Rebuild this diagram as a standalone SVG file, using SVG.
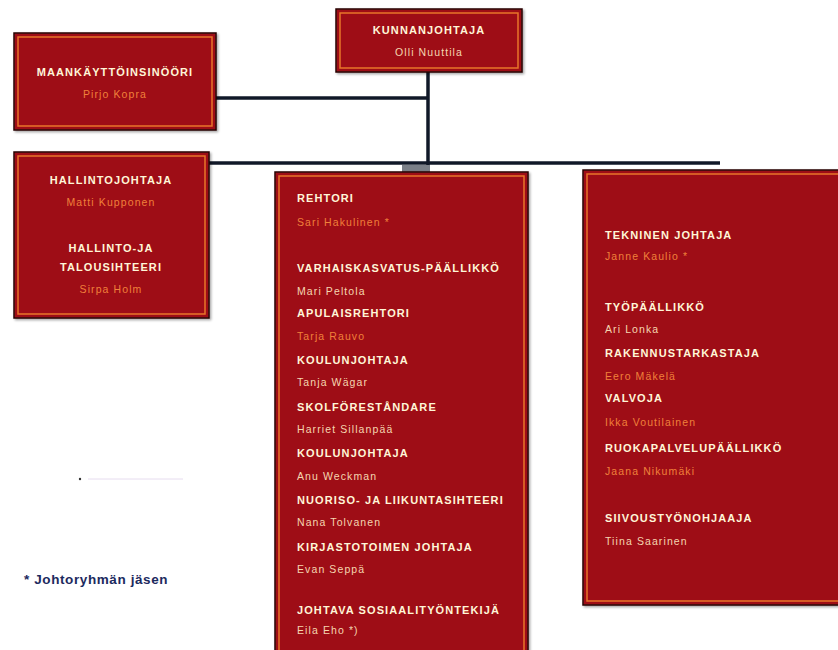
<svg xmlns="http://www.w3.org/2000/svg" width="838" height="650" viewBox="0 0 838 650">
<defs>
<filter id="sh" x="-5%" y="-5%" width="115%" height="115%"><feDropShadow dx="1.5" dy="1.5" stdDeviation="1" flood-color="#000" flood-opacity="0.35"/></filter>
</defs>
<style>
.box{fill:#9e1014;stroke:#2a0606;stroke-width:1.5;filter:url(#sh)}
.inner{fill:none;stroke:#e8762a;stroke-width:1.5}
.t{font-family:"Liberation Sans",Arial,sans-serif;font-weight:bold;font-size:11px;fill:#fff6d8;letter-spacing:1.1px}
.n{font-family:"Liberation Sans",Arial,sans-serif;font-size:10.5px;fill:#f5d6b0;letter-spacing:1.1px}
.o{fill:#f0803a}
.c{text-anchor:middle}
.line{stroke:#101828;stroke-width:3.5;fill:none}
</style>
<rect width="838" height="650" fill="#ffffff"/>
<g id="connectors">
<line class="line" x1="428" y1="72" x2="428" y2="165"/>
<line class="line" x1="216" y1="98" x2="428" y2="98"/>
<line class="line" x1="209" y1="163" x2="720" y2="163" stroke-width="3"/>
<rect x="402" y="165" width="28" height="7" fill="#7a7f88"/>
</g>
<g id="kunnanjohtaja">
<rect class="box" x="336" y="9" width="186" height="63"/>
<rect class="inner" x="340" y="13" width="178" height="55"/>
<text class="t c" x="429" y="34">KUNNANJOHTAJA</text>
<text class="n c" x="429" y="56">Olli Nuuttila</text>
</g>
<g id="maankayttoinsinoori">
<rect class="box" x="14" y="33" width="202" height="97"/>
<rect class="inner" x="18" y="37" width="194" height="89"/>
<text class="t c" x="115" y="76">MAANKÄYTTÖINSINÖÖRI</text>
<text class="n o c" x="115" y="98">Pirjo Kopra</text>
</g>
<g id="hallintojohtaja">
<rect class="box" x="14" y="152" width="195" height="166"/>
<rect class="inner" x="18" y="156" width="187" height="158"/>
<text class="t c" x="111" y="184">HALLINTOJOHTAJA</text>
<text class="n o c" x="111" y="206">Matti Kupponen</text>
<text class="t c" x="111" y="252">HALLINTO-JA</text>
<text class="t c" x="111" y="271">TALOUSIHTEERI</text>
<text class="n o c" x="111" y="293">Sirpa Holm</text>
</g>
<g id="rehtori">
<rect class="box" x="275" y="172" width="253" height="480"/>
<rect class="inner" x="279" y="176" width="245" height="480"/>
<text class="t" x="297" y="202">REHTORI</text>
<text class="n o" x="297" y="226">Sari Hakulinen *</text>
<text class="t" x="297" y="272">VARHAISKASVATUS-PÄÄLLIKKÖ</text>
<text class="n" x="297" y="295">Mari Peltola</text>
<text class="t" x="297" y="317">APULAISREHTORI</text>
<text class="n o" x="297" y="340">Tarja Rauvo</text>
<text class="t" x="297" y="364">KOULUNJOHTAJA</text>
<text class="n" x="297" y="386">Tanja Wägar</text>
<text class="t" x="297" y="411">SKOLFÖRESTÅNDARE</text>
<text class="n" x="297" y="433">Harriet Sillanpää</text>
<text class="t" x="297" y="457">KOULUNJOHTAJA</text>
<text class="n" x="297" y="480">Anu Weckman</text>
<text class="t" x="297" y="504">NUORISO- JA LIIKUNTASIHTEERI</text>
<text class="n" x="297" y="526">Nana Tolvanen</text>
<text class="t" x="297" y="551">KIRJASTOTOIMEN JOHTAJA</text>
<text class="n" x="297" y="573">Evan Seppä</text>
<text class="t" x="297" y="614">JOHTAVA SOSIAALITYÖNTEKIJÄ</text>
<text class="n" x="297" y="634">Eila Eho *)</text>
</g>
<g id="tekninen">
<rect class="box" x="583" y="170" width="262" height="435"/>
<rect class="inner" x="587" y="174" width="262" height="427"/>
<text class="t" x="605" y="239">TEKNINEN JOHTAJA</text>
<text class="n o" x="605" y="260">Janne Kaulio *</text>
<text class="t" x="605" y="311">TYÖPÄÄLLIKKÖ</text>
<text class="n" x="605" y="333">Ari Lonka</text>
<text class="t" x="605" y="357">RAKENNUSTARKASTAJA</text>
<text class="n o" x="605" y="380">Eero Mäkelä</text>
<text class="t" x="605" y="402">VALVOJA</text>
<text class="n o" x="605" y="426">Ikka Voutilainen</text>
<text class="t" x="605" y="452">RUOKAPALVELUPÄÄLLIKKÖ</text>
<text class="n o" x="605" y="475">Jaana Nikumäki</text>
<text class="t" x="605" y="522">SIIVOUSTYÖNOHJAAJA</text>
<text class="n" x="605" y="545">Tiina Saarinen</text>
</g>
<g id="legend">
<circle cx="80" cy="479" r="1.2" fill="#333"/>
<line x1="88" y1="479" x2="183" y2="479" stroke="#e6dcef" stroke-width="1"/>
<text x="24" y="584" font-family="Liberation Sans, Arial, sans-serif" font-weight="bold" font-size="13.5px" letter-spacing="0.6" fill="#1c2a5e">* Johtoryhmän jäsen</text>
</g>
</svg>
